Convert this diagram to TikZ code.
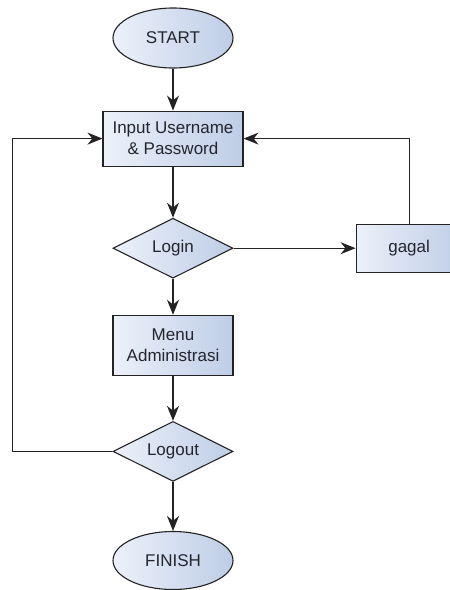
\documentclass[tikz,border=0pt]{standalone}
\usepackage{fontspec}
\setmainfont{Liberation Sans}
\usetikzlibrary{positioning,shapes.geometric,arrows.meta}

\definecolor{lineclr}{RGB}{35,35,35}
\definecolor{textclr}{RGB}{35,38,46}
\definecolor{lightfill}{RGB}{236,241,250}
\definecolor{darkfill}{RGB}{190,205,230}

\tikzset{
  shade box/.style={draw=lineclr, line width=1.1pt, left color=lightfill, right color=darkfill,
    text=textclr, inner sep=0pt, font=\fontsize{17}{21}\selectfont, align=center},
  terminal/.style={shade box, ellipse, minimum width=120pt, minimum height=60pt},
  process/.style={shade box, rectangle, minimum width=120pt, minimum height=60pt},
  decision/.style={shade box, diamond, aspect=2, minimum width=120pt, minimum height=60pt},
  flow/.style={draw=lineclr, line width=1.2pt, -{Stealth[length=15pt,width=12pt]}},
}

\begin{document}
\begin{tikzpicture}[x=1pt, y=1pt]
  \useasboundingbox (0,0) rectangle (450,-590);

  \node [terminal] (start) at (173,-38) {START};
  \node [process, minimum width=140pt, minimum height=55pt, below=42pt of start] (input) {Input Username\\ \& Password};
  \node [decision, below=51pt of input] (login) {Login};
  \node [process, minimum width=106pt, minimum height=48pt, right=122pt of login] (gagal) {gagal};
  \node [process, below=36pt of login] (menu) {Menu\\ Administrasi};
  \node [decision, below=45pt of menu] (logout) {Logout};
  \node [terminal, minimum height=58pt, below=49pt of logout] (finish) {FINISH};
  \coordinate [left=100pt of logout.west] (back);

  \draw [flow] (start) -- (input);
  \draw [flow] (input) -- (login);
  \draw [flow] (login) -- (gagal);
  \draw [flow] (login) -- (menu);
  \draw [flow] (menu) -- (logout);
  \draw [flow] (logout) -- (finish);
  \draw [flow] (gagal.north) |- (input.east);
  \draw [flow] (logout.west) -- (back) |- (input.west);
\end{tikzpicture}
\end{document}
